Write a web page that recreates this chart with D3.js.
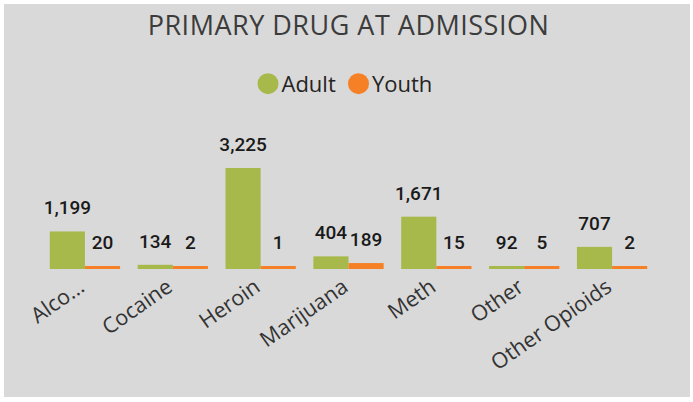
<!DOCTYPE html>
<html>
<head>
<meta charset="utf-8">
<script src="https://cdn.jsdelivr.net/npm/d3@7"></script>
<style>
  html, body { margin: 0; padding: 0; background: #ffffff; }
  svg { display: block; }
</style>
</head>
<body>
<svg id="chart" width="693" height="402"></svg>
<script>
const categories = ["Alco...", "Cocaine", "Heroin", "Marijuana", "Meth", "Other", "Other Opioids"];
const seriesNames = ["Adult", "Youth"];
const adultValues = [1199, 134, 3225, 404, 1671, 92, 707];
const youthValues = [20, 2, 1, 189, 15, 5, 2];
const seriesColors = ["#a8b94b", "#f58025"];
const title = "PRIMARY DRUG AT ADMISSION";

const W = 693, H = 402;
const svg = d3.select("#chart");

svg.append("rect").attr("x", 4).attr("y", 4).attr("width", 686).attr("height", 393).attr("fill", "#d9d9d9");

svg.append("text")
  .attr("x", 348.5).attr("y", 34.7)
  .attr("text-anchor", "middle")
  .attr("font-family", "'Open Sans', sans-serif")
  .attr("font-weight", 400)
  .attr("font-size", 27)
  .attr("letter-spacing", 0.5)
  .attr("fill", "#3c3c3c")
  .text(title);

// Legend
const legendX = [268, 358.5];
seriesNames.forEach((s, i) => {
  svg.append("circle").attr("cx", legendX[i]).attr("cy", 83.7).attr("r", 10.5).attr("fill", seriesColors[i]);
  svg.append("text")
    .attr("x", legendX[i] + 13.5).attr("y", 91.5)
    .attr("font-family", "'Open Sans', sans-serif")
    .attr("font-size", 22)
    .attr("fill", "#252423")
    .text(s);
});

const baseline = 269;
const x0 = d3.scaleBand().domain(categories).range([41, 656]).paddingInner(0.2).paddingOuter(0.1);
const x1 = d3.scaleBand().domain(seriesNames).range([0, x0.bandwidth()]).padding(0);
const y = d3.scaleLinear().domain([0, 3225]).range([baseline, 168]);

const rows = categories.map((c, i) => ({ cat: c, vals: [adultValues[i], youthValues[i]] }));

const g = svg.append("g");
rows.forEach(r => {
  r.vals.forEach((v, j) => {
    const top = Math.min(y(v), baseline - 3);
    const bx = x0(r.cat) + x1(seriesNames[j]);
    g.append("rect")
      .attr("x", bx).attr("y", top)
      .attr("width", x1.bandwidth()).attr("height", baseline - top)
      .attr("fill", seriesColors[j]);
    g.append("text")
      .attr("x", bx + x1.bandwidth() / 2).attr("y", top - 17)
      .attr("text-anchor", "middle")
      .attr("font-family", "Roboto, sans-serif")
      .attr("font-weight", 500)
      .attr("font-size", 19)
      .attr("fill", "#1a1a1a")
      .text(d3.format(",")(v));
  });
});

// X axis labels
const xAxis = d3.axisBottom(x0).tickSize(0).tickPadding(0);
const ax = svg.append("g").attr("transform", `translate(0,${baseline})`).call(xAxis);
ax.select(".domain").remove();
ax.selectAll(".tick text")
  .attr("font-family", "'Open Sans', sans-serif")
  .attr("font-size", 21.5)
  .attr("fill", "#333333")
  .attr("text-anchor", "end")
  .attr("dy", null)
  .attr("y", null)
  .attr("transform", "translate(1,21) rotate(-35)");
</script>
</body>
</html>
